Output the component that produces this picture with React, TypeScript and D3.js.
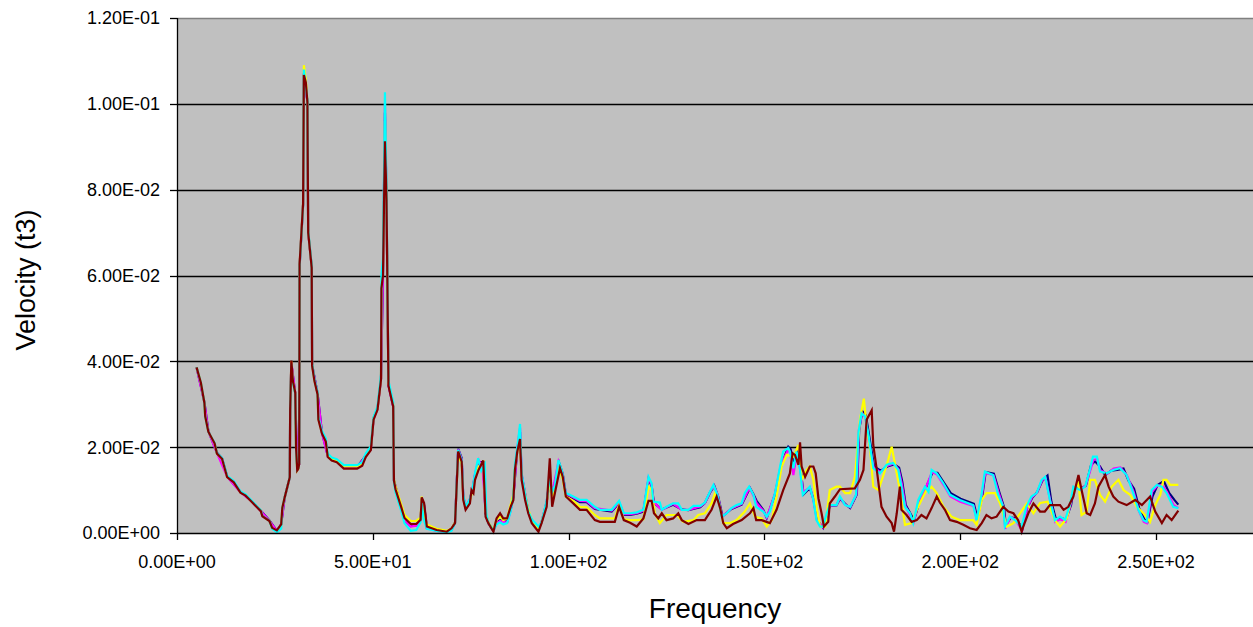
import React from 'react';
import * as d3 from 'd3';

// velocity spectra, values in units of 1e-3, [frequency, velocity]
const redSeries: [number, number][] = [
  [5,38.6],[6.1,35],[7,30.3],[7.2,27.2],[8,23.6],[9.6,20.9],[10.2,18.5],[11.5,17.3],[12.8,13],[14.5,11.8],[16.2,9.4],[17.5,8.7],
  [18.8,7.5],[20.1,6.3],[21.4,5.1],[21.8,3.9],[23.6,2.8],[24.3,1.2],[25.5,0.6],[26.6,2],[26.9,5.9],[27.5,8.3],[28.8,13],[28.9,28.7],
  [29.2,40.2],[29.6,35.4],[30.2,32.7],[30.4,20],[30.7,14.6],[31,15],[31.2,16.1],[31.3,62.6],[32.2,76.8],[32.4,106.7],[32.9,105],
  [33.3,100.4],[33.5,70],[34.4,61.8],[34.5,39],[35.1,35.4],[35.9,32.3],[36.1,26.4],[37,23.2],[38,21.3],[38.5,17.7],[39.5,16.9],
  [40.8,16.5],[42.6,15],[46,15],[47.3,15.7],[48.2,17.7],[49.5,19.3],[50.2,26.4],[51.2,28.7],[52.1,35.8],[52.2,57],[52.6,60],
  [53.1,91.3],[53.5,77.6],[54,34.3],[55.2,29.5],[55.4,12.2],[55.8,10.2],[57.3,5.9],[58.1,3.5],[59.7,2.1],[61.1,2.1],[62.2,3.1],
  [62.5,8.3],[63.1,7],[63.8,1.5],[66.3,0.7],[68.9,0.3],[70.1,1.1],[71,2.3],[71.8,19],[72.7,16.6],[73.1,7.7],[73.7,5.4],[74.8,6.9],
  [75.2,10],[75.7,9.3],[76.1,12.4],[77,14.7],[78.2,16.9],[78.8,3.8],[79.5,2.3],[80.8,0.3],[81.6,3.4],[82.5,4.6],[83.3,3.4],[84.3,3.4],
  [85.2,6.1],[85.9,7.7],[86.3,14.7],[86.9,19],[87.6,21.9],[88,12.4],[88.9,7.7],[89.7,4.6],[90.6,2.3],[92.3,0.3],[93.1,2.3],[94.4,6.1],
  [95.2,17.4],[95.8,6.1],[96.5,9.3],[97.8,15.1],[98.5,13.1],[99.3,8.5],[101.2,6.9],[102.9,5.4],[104.6,5.4],[106.7,3],[108,2.6],
  [111.8,2.6],[112.9,6.1],[114.1,3],[115.7,2.4],[117.4,1.5],[119.1,3.4],[120.4,7.5],[121.2,7.5],[121.8,4.6],[122.9,3.4],[123.8,4.6],
  [125,3],[126.7,3.4],[128,4.6],[128.9,3],[130.6,2.1],[132.7,3],[134.8,3],[136.5,5.4],[137.8,8.5],[138.7,5.8],[139.5,2.3],[140.4,1.1],
  [142,2.1],[144.2,3],[146.3,4.6],[147.2,5.8],[147.9,3],[149.3,3],[151.4,2.3],[153.1,5.4],[154.8,10],[156.5,13.9],[157.2,18.6],
  [157.8,18.2],[158.7,15.9],[159.1,21.1],[159.5,15.5],[160.4,13.1],[161.6,15.5],[162.5,15.5],[163.1,13.9],[163.8,8.1],[164.6,4.6],
  [165.2,1.5],[166.3,2.6],[166.7,6.9],[168,8.5],[169.3,10.2],[173.1,10.4],[174.4,12.4],[175.3,14.7],[176.1,26.4],[177.4,28.6],
  [177.8,20.5],[178.7,14.7],[179.9,6.1],[181.2,3.8],[182.5,2.3],[183.1,0.3],[183.8,4.6],[184.6,10.8],[185,5.4],[186.3,4.2],[187.6,2.6],
  [188.9,3],[190.1,4.2],[191.4,3.4],[192.7,5.8],[194,8.5],[194.8,7.1],[196.1,5.4],[197.4,3],[199.1,2.6],[200.8,1.9],[202.5,1.1],
  [204.2,0.7],[205.5,2.3],[206.7,4.2],[208,3.4],[209.3,3.8],[211,6.1],[212.3,5],[213.6,4.6],[214.8,3],[215.7,0.3],[216.1,1.5],
  [217.4,4.6],[218.7,6.9],[220.4,5],[221.6,5],[222.9,6.5],[225.5,6.5],[226.4,5.4],[227.6,6.1],[228.9,8.5],[230.2,13.5],[231,10],
  [232.3,4.6],[233.2,4.2],[234.4,6.9],[235.3,10.8],[237,13.5],[237.9,10.8],[239.1,8.5],[240.4,7.3],[242.5,6.5],[244.7,7.7],[246.4,6.5],
  [248.5,8.5],[249.8,5],[251.5,2.3],[252.7,4.2],[254,3],[255.7,5.2],
];

const yellowSeries: [number, number][] = [
  [5,38.6],[6.1,35],[7,30.3],[7.2,27.2],[8,23.6],[9.6,20.9],[10.2,18.5],[11.5,17.3],[12.8,13.1],[14.5,11.9],[16.2,9.5],[17.5,8.8],
  [18.8,7.6],[20.1,6.4],[21.4,5.2],[21.8,4],[23.6,2.8],[24.3,1.1],[25.5,0.5],[26.6,1.8],[26.9,5.9],[27.5,8.3],[28.8,13],[28.9,28.7],
  [29.2,40],[29.6,35.2],[30.2,32.6],[30.4,20],[30.7,14.6],[31,15],[31.2,16.2],[31.3,62.4],[32.2,76.8],[32.4,109],[32.9,105.5],
  [33.3,100.6],[33.5,70.2],[34.4,62],[34.5,39.2],[35.1,35.6],[35.9,32.5],[36.1,26.7],[37,23.5],[38,21.6],[38.5,18],[39.5,17.3],
  [40.8,16.9],[42.6,15.5],[46,15.5],[47.3,16.1],[48.2,18.1],[49.5,19.8],[50.2,26.8],[51.2,29],[52.1,36.2],[52.2,58],[52.6,62],
  [53.1,96],[53.5,78.5],[54,34.8],[55.2,30],[55.4,12.5],[55.8,10.8],[57.3,6.5],[58.1,4.2],[59.7,2.8],[61.1,2.8],[62.2,3.6],
  [62.5,8.5],[62.9,5],[63.8,2],[66.3,1],[68.9,0.5],[70.1,1],[71,2.5],[71.8,18.5],[72.7,16],[73.1,8],[73.7,6],[74.8,7.5],[75.5,10],
  [76.1,13],[77,15.5],[78.2,16.5],[78.8,5],[79.5,2.5],[80.8,0.6],[81.6,3],[82.5,4],[83.3,3],[84.3,3.4],[85.2,6.5],[85.9,9],[86.3,15],
  [86.9,19],[87.6,22],[88,13],[88.9,9],[89.7,5.5],[90.6,3],[92.3,1],[93.1,2.5],[94.4,7],[95.2,12],[95.8,8.5],[96.5,10.5],[97.6,15],
  [98.5,12.5],[99.3,8.5],[101.2,7.5],[102.9,6.1],[104.6,6],[106.7,4.2],[108,3.4],[111.8,3.4],[112.9,6.5],[114.1,3.2],[115.7,3],
  [117.4,3],[119.1,3.2],[120.4,10.8],[121.2,10],[122,4.6],[123.3,2.3],[125,4.2],[127.6,4.2],[129.3,2.6],[131.9,3],[133.1,4.2],
  [134.8,4.6],[136.5,6.9],[137.4,9.3],[138.2,7.7],[139.5,2.3],[141.2,2.3],[142.9,3],[145,5],[146.3,6.9],[147.6,3.8],[149.3,3.4],
  [150.6,1.5],[151.9,3],[153.1,8.5],[154.4,15.5],[155.7,18.2],[157.4,17.8],[158.7,20.5],[159.5,12.4],[160.8,14.7],[161.6,15.5],
  [162.5,12.4],[163.3,6.1],[164.2,1.5],[165.5,1.5],[166.7,10],[168.4,10.8],[169.3,10.8],[170.6,9.3],[171.9,9.3],[173.1,13.1],
  [174.4,26.4],[175.4,31.3],[176.1,24.8],[177,19.4],[177.8,10.8],[179.1,10],[180.4,13.5],[181.6,17],[182.5,20.1],[183.3,16.3],
  [184.6,10],[185.9,1.9],[187.6,2.3],[188.9,5.4],[190.1,7.7],[191.4,10],[192.7,10.8],[194,9.3],[195.7,6.1],[197.8,3.8],[199.9,3],
  [203.3,3],[204.2,1.9],[205.5,7.7],[206.7,9.3],[208.9,9.3],[210.2,6.9],[211.9,1.5],[213.6,2.3],[215.3,4.6],[217,6.9],[218.7,4.6],
  [220.4,7],[222.3,7.3],[224.2,3],[225.5,1.5],[227.2,3.4],[228.9,10],[230.2,11.6],[231,4.2],[232.3,5],[233.2,12.4],[234.4,12.4],
  [235.7,8.9],[237,7.3],[238.7,10.8],[240.4,12.4],[241.7,10],[243.4,8.9],[245.1,6.1],[246.8,4.6],[248.5,2.6],[249.8,6.5],[251.1,8.9],
  [251.9,12.4],[252.7,12.4],[253.6,11.2],[255.7,11.2],
];

const cyanSeries: [number, number][] = [
  [5,38.6],[6.1,35],[7,30.3],[7.2,27.2],[8,23.6],[9.6,21],[10.2,18.6],[11.5,17.5],[12.8,13.3],[14.5,12.1],[16.2,9.7],[17.5,9],
  [18.8,7.8],[20.1,6.5],[21.4,5.3],[21.8,4],[23.6,2.8],[24.3,1],[25.5,0.2],[26.6,1],[26.9,5.9],[27.5,8.3],[28.8,13],[28.9,28.7],
  [29.2,39.5],[29.6,35],[30.2,32.5],[30.4,20],[30.7,14.8],[31,15.2],[31.2,16.3],[31.3,62],[32.2,76.5],[32.4,108],[32.9,104],
  [33.3,100.8],[33.5,70.5],[34.4,62.3],[34.5,39.5],[35.1,35.8],[35.9,32.7],[36.1,27],[37,23.8],[38,22],[38.5,18.5],[39.5,17.6],
  [40.8,17.2],[42.6,15.8],[46,15.8],[47.3,16.5],[48.2,18.5],[49.5,20.2],[50.2,27],[51.2,29.5],[52.1,37],[52.2,60],[52.6,64],
  [53.1,102.7],[53.5,80],[54,35.5],[55.2,30.5],[55.4,12],[55.8,9.5],[57.3,5],[58.1,2.3],[59.7,0.5],[61.1,0.7],[62.2,2.5],
  [62.5,7.5],[62.9,3.5],[63.8,1],[66.3,0.5],[68.9,0.2],[70.1,0.5],[71,2.3],[71.8,19.4],[72.7,17],[73.1,9],[73.7,6],[74.8,8],
  [75.5,10.5],[76.1,14],[76.9,17.4],[77.7,14.5],[78.6,16],[79,4.5],[79.5,2.3],[80.8,0.6],[81.6,2],[82.5,2.5],[83.3,2],[84.3,2.3],
  [85.2,5],[85.9,8.5],[86.3,16],[86.9,20],[87.6,25.4],[88,14],[88.9,9],[89.7,5],[90.6,3.2],[92.3,1.5],[93.1,2.5],[94.4,7.5],
  [95.2,13],[95.8,9.5],[96.5,11],[97.4,17],[98.3,14.5],[99.3,9.3],[101.2,8.5],[102.9,7.7],[104.6,7.7],[106.7,6.1],[108,5.4],
  [111,5.4],[112.9,7.5],[114.1,4.6],[115.7,4.6],[117.4,4.8],[119.1,5.4],[120.4,13.1],[121.2,11.6],[121.6,7.3],[123.3,7.1],
  [123.8,5.4],[125,6.1],[126.7,6.9],[128,6.9],[128.9,5.4],[130.6,5.4],[131.9,6.3],[133.6,6.3],[134.8,7.1],[136.1,9.6],[137,11.2],
  [138,8.9],[139.1,3.8],[140.4,4.6],[141.6,5.8],[142.9,6.5],[144.2,6.9],[145,9.3],[146.1,10.8],[147.2,8.9],[147.9,6.1],[149.7,5],
  [150.6,3.8],[151.4,5],[152.7,9.3],[154,15.5],[154.8,19],[156.1,19.8],[156.5,19],[157.4,15.1],[158.2,19],[159.1,14.7],[159.8,8.9],
  [160.8,10],[161.6,10.8],[162.5,7.7],[163.3,3],[164.2,1.5],[165,1.5],[165.9,4.6],[166.7,6.5],[168.4,6.5],[169.3,8.5],[170.6,6.5],
  [171.9,6.1],[173.4,8.9],[174,23.3],[174.8,27.9],[175.7,27.2],[176.5,23.3],[177.8,15.1],[179.5,13.9],[181.2,15.9],[182.9,16.3],
  [184.2,14.7],[185,10.8],[185.9,6.1],[187.2,4.6],[188,2.3],[189.3,7.7],[191,10.8],[191.9,9.6],[192.7,14.7],[194,13.9],[195.7,11.6],
  [197.4,8.9],[199.9,7.7],[203.3,6.5],[204.2,3],[205.5,9.3],[206.3,14.3],[208.4,13.5],[209.7,8.9],[211,6.1],[211.4,1.5],[212.7,3.8],
  [214,3],[215.7,1.5],[216.9,6.1],[218.2,8.5],[219.5,9.3],[220.8,12.4],[221.7,13.1],[222.9,7.7],[224.2,3],[225.5,3.8],[226.8,3],
  [228.1,6.9],[228.9,10.8],[230.6,10],[231.9,10.8],[233.2,15.1],[233.9,17.8],[234.9,17.8],[235.7,14.3],[237.4,13.9],[239.1,14.7],
  [240.8,15.1],[242.5,13.5],[244.2,9.3],[245.5,5.4],[246.8,3],[247.6,2.6],[248.9,10],[250.2,11.2],[251.5,10.8],[252.7,9.3],
  [254.4,6.1],[255.7,5.8],
];

const blueSeries: [number, number][] = [
  [5,38.6],[7,30.5],[8,23.8],[10.2,18.7],[11.5,17.4],[12.8,13.2],[16.2,9.6],[18.8,7.7],[21.4,5.2],[23.6,2.9],[25.5,0.5],[26.6,2],
  [27.5,8.3],[28.8,13],[28.9,28.5],[29.2,39.5],[30.2,32.5],[30.7,14.6],[31.2,16],[31.3,62],[32.2,76.5],[32.4,107],[33.3,100.6],
  [33.5,70.2],[34.4,62],[34.5,39.2],[35.9,32.5],[37,23.5],[38.5,18],[40.8,16.8],[42.6,15.5],[46,15.4],[48.2,18],[49.5,19.6],
  [50.2,26.8],[51.2,29],[52.1,36],[52.6,60.5],[53.1,98],[53.5,78],[54,34.5],[55.2,29.6],[55.4,12.3],[57.3,5.7],[58.1,3],[59.7,1.6],
  [61.1,1.8],[62.2,3],[62.5,8],[63.1,6.5],[63.8,1.2],[66.3,0.6],[68.9,0.3],[70.1,0.8],[71,2.5],[71.8,19.6],[72.7,17.5],[73.1,8.5],
  [73.7,6],[74.8,7.8],[75.5,10.3],[76.1,13.5],[77,16.5],[78.2,16.5],[78.8,4.5],[79.5,2.3],[80.8,0.5],[81.6,2.5],[82.5,3],[84.3,2.6],
  [85.2,5.5],[85.9,8.5],[86.9,19.5],[87.6,23.5],[88,13.5],[89.7,5],[90.6,2.8],[92.3,0.8],[93.1,2.5],[94.4,7.2],[95.2,12.5],[95.8,9],
  [97.6,16.3],[98.5,13.8],[99.3,9],[102.9,7.2],[104.6,7.2],[106.7,5.6],[111,5],[112.9,7],[114.1,4.2],[115.7,4.2],[117.4,4.5],
  [119.1,5],[120.4,12.5],[121.2,11],[121.8,7],[123.8,5.5],[126.7,6.6],[128.9,5.5],[130.6,5.3],[133.6,6],[134.8,7],[136.1,9.4],
  [137.2,11],[138.2,8.5],[139.3,3.9],[141.6,5.6],[144.2,6.6],[146.3,10.5],[147.2,9],[148,7.5],[149.7,5.4],[150.6,3.5],[152.7,9],
  [154.4,16],[156.1,20.1],[156.7,19.5],[157.6,15.5],[158.4,19.2],[159.3,14.5],[160,9],[161.6,10.5],[162.5,8],[163.5,3],[165,1.2],
  [166.7,6.3],[168.4,6.4],[169.3,8],[170.6,6.8],[171.9,5.8],[173.6,9],[174.2,24],[175,28.4],[175.9,27.5],[176.7,23],[178,15.5],
  [179.7,14.5],[181.4,15.5],[183.1,16],[184.4,15.2],[185.2,12],[186.1,6.5],[188.2,3],[189.5,7],[191.2,10.5],[192.9,14],[194.2,14],
  [196,11.5],[197.6,9.3],[200.1,8],[203.5,6.8],[204.4,3.4],[205.7,9],[206.5,14.2],[208.6,13.8],[210,9.5],[211.2,6],[211.6,2],
  [213,3.6],[214.2,3.5],[215.9,1],[217.1,5.8],[218.4,8.2],[219.7,9.6],[221,12.2],[222.3,13.4],[223.3,7.2],[224.4,3.3],[225.7,3.4],
  [227,3.2],[228.3,6.5],[229.1,10.6],[230.8,10.4],[232.1,11],[233.4,15.8],[234.4,16.7],[235.7,15.5],[237,13.5],[238.5,14.5],
  [240.1,14.7],[241.7,15],[243,12.2],[244.4,10.3],[245.7,5.8],[247,3.2],[247.8,2.6],[249.1,8.5],[250.4,11.2],[252,12.1],[253.4,9.3],
  [254.8,7.6],[255.7,6.6],
];

const magentaSeries: [number, number][] = [
  [5,38.5],[7,30.4],[8,23.7],[10.2,18.6],[12.8,13.1],[16.2,9.5],[18.8,7.6],[21.4,5.1],[23.6,2.8],[25.5,0.5],[26.6,2],[27.5,8.3],
  [28.8,13],[28.9,28.6],[29.2,39.8],[30.2,32.6],[30.7,14.6],[31.2,16],[31.3,62.2],[32.2,76.6],[32.4,107.2],[33.3,100.5],[33.5,70],
  [34.4,62],[34.5,39.1],[35.9,32.4],[37,23.4],[38.5,17.9],[40.8,16.7],[42.6,15.4],[46,15.3],[48.2,17.9],[49.5,19.5],[50.2,26.6],
  [51.2,28.9],[52.1,36],[52.6,61],[53.1,100],[53.5,78.5],[54,34.4],[55.2,29.5],[55.4,12.2],[57.3,5.6],[58.1,3],[59.7,1.5],[61.1,1.7],
  [62.2,3],[62.5,7.8],[63.1,6.3],[63.8,1.1],[66.3,0.5],[68.9,0.3],[70.1,0.7],[71,2.4],[71.8,19.5],[72.7,17.2],[73.1,8.8],[73.7,6],
  [74.8,7.9],[75.5,10.4],[76.1,13.8],[77,17],[78,15.5],[78.8,5],[79.5,2.3],[80.8,0.5],[81.6,2.2],[82.5,2.8],[84.3,2.4],[85.2,5.2],
  [85.9,8.5],[86.9,19.8],[87.6,24.5],[88,13.8],[89.7,5],[90.6,3],[92.3,1],[93.1,2.5],[94.4,7.3],[95.2,12.8],[95.8,9.2],[97.4,16.6],
  [98.4,14],[99.3,9.2],[102.9,7.5],[104.6,7.4],[106.7,5.8],[111,5.2],[112.9,7.2],[114.1,4.4],[115.7,4.4],[117.4,4.6],[119.1,5.2],
  [120.4,12.8],[121.2,11.2],[121.7,7.2],[123.8,5.4],[126.7,6.8],[128.9,5.4],[130.6,5.4],[133.6,6.2],[134.8,7],[136.1,9.5],[137.1,11],
  [138.1,8.7],[139.2,3.8],[141.6,5.7],[144.2,6.8],[146.2,10.6],[147.3,8.5],[148,7],[149.7,5.2],[150.6,3.6],[152.7,9.2],[154.2,15.8],
  [156.1,19.5],[156.6,18.5],[157.4,13.5],[158.3,18.6],[159.2,14.5],[159.9,9.5],[161.6,10.6],[162.5,7.8],[163.4,3],[165,1.3],
  [166.7,6.4],[168.4,6.5],[169.3,8.2],[170.6,6.6],[171.9,6],[173.5,9],[174.1,23.8],[174.9,28],[175.8,27],[176.6,21.5],[177.9,15.3],
  [179.6,14.2],[181.3,15.6],[183,16.2],[184.3,14.8],[185.1,11.4],[186,6.3],[188.1,2.5],[189.4,7.3],[191.1,10.3],[192.8,14.2],
  [194.1,13.6],[195.9,11],[197.5,8.5],[200,7.3],[203.4,6.3],[204.3,3],[205.6,9.2],[206.4,14],[208.5,13.5],[209.8,9.5],[211.1,5.8],
  [211.5,1],[212.8,3.7],[214.1,3.2],[215.8,0.5],[217,5.5],[218.3,8.3],[219.6,9.4],[220.9,12.3],[221.8,12.8],[223,7.5],[224.3,2.6],
  [225.6,3.2],[226.9,2.6],[228.2,6.7],[229,10.7],[230.7,10.2],[232,11],[233.3,14.8],[234,17],[235,17.2],[235.8,14.6],[237.5,13.8],
  [239.2,15],[240.9,15.3],[242.6,13.4],[244.3,9.6],[245.6,5.2],[246.9,2.6],[247.7,2.3],[249,9.6],[250.3,11],[251.6,11.2],[252.8,9.6],
  [254.5,6.5],[255.7,5.8],
];

const yTicks = [0, 0.02, 0.04, 0.06, 0.08, 0.1, 0.12];
const xTicks = [0, 50, 100, 150, 200, 250];

const sci = (v: number) => {
  const [m, e] = v.toExponential(2).split('e');
  const n = +e;
  return `${m}E${n < 0 ? '-' : '+'}${String(Math.abs(n)).padStart(2, '0')}`;
};

const App = () => {
  const width = 1253;
  const height = 627;
  const left = 177;
  const top = 18;
  const bottom = 533;

  // axis runs to 300, the right part falls outside the picture
  const x = d3.scaleLinear().domain([0, 300]).range([left, left + 300 * 3.916]);
  const y = d3.scaleLinear().domain([0, 0.12]).range([bottom, top]);

  const line = d3.line<[number, number]>()
    .x(d => x(d[0]))
    .y(d => y(d[1] / 1000));

  const series = [
    { data: blueSeries, color: '#000080' },
    { data: magentaSeries, color: '#FF00FF' },
    { data: yellowSeries, color: '#FFFF00' },
    { data: cyanSeries, color: '#00FFFF' },
    { data: redSeries, color: '#800000' },
  ];

  const font = '"Liberation Sans", Arial, sans-serif';

  return (
    <svg width={width} height={height} style={{ position: 'absolute', left: 0, top: 0, background: '#fff' }}>
      <rect x={left} y={top} width={width - left} height={bottom - top} fill="#C0C0C0" />
      {yTicks.slice(1, -1).map(t => (
        <line key={t} x1={left} x2={width} y1={Math.round(y(t)) + 0.5} y2={Math.round(y(t)) + 0.5} stroke="#000" strokeWidth={1.3} />
      ))}
      <line x1={left} x2={width} y1={top + 0.5} y2={top + 0.5} stroke="#808080" strokeWidth={1.5} />
      {series.map((s, i) => (
        <path key={i} d={line(s.data) || ''} fill="none" stroke={s.color} strokeWidth={2.2} />
      ))}
      <line x1={left + 0.5} x2={left + 0.5} y1={top} y2={bottom + 0.5} stroke="#000" strokeWidth={1.3} />
      <line x1={left} x2={width} y1={bottom + 0.5} y2={bottom + 0.5} stroke="#000" strokeWidth={1.3} />
      {yTicks.map(t => (
        <g key={t}>
          <line x1={left - 7} x2={left} y1={Math.round(y(t)) + 0.5} y2={Math.round(y(t)) + 0.5} stroke="#000" strokeWidth={1.3} />
          <text x={left - 17} y={y(t)} dy="0.36em" textAnchor="end" fontFamily={font} fontSize={18} fill="#000">
            {sci(t)}
          </text>
        </g>
      ))}
      {xTicks.map(t => (
        <g key={t}>
          <line x1={Math.round(x(t)) + 0.5} x2={Math.round(x(t)) + 0.5} y1={bottom} y2={bottom + 7} stroke="#000" strokeWidth={1.3} />
          <text x={x(t)} y={568} textAnchor="middle" fontFamily={font} fontSize={18} fill="#000">
            {sci(t)}
          </text>
        </g>
      ))}
      <text x={715} y={618} textAnchor="middle" fontFamily={font} fontSize={28} fill="#000">Frequency</text>
      <text transform="translate(35,280) rotate(-90)" textAnchor="middle" fontFamily={font} fontSize={27} fill="#000">
        Velocity (t3)
      </text>
    </svg>
  );
};

export default App;
